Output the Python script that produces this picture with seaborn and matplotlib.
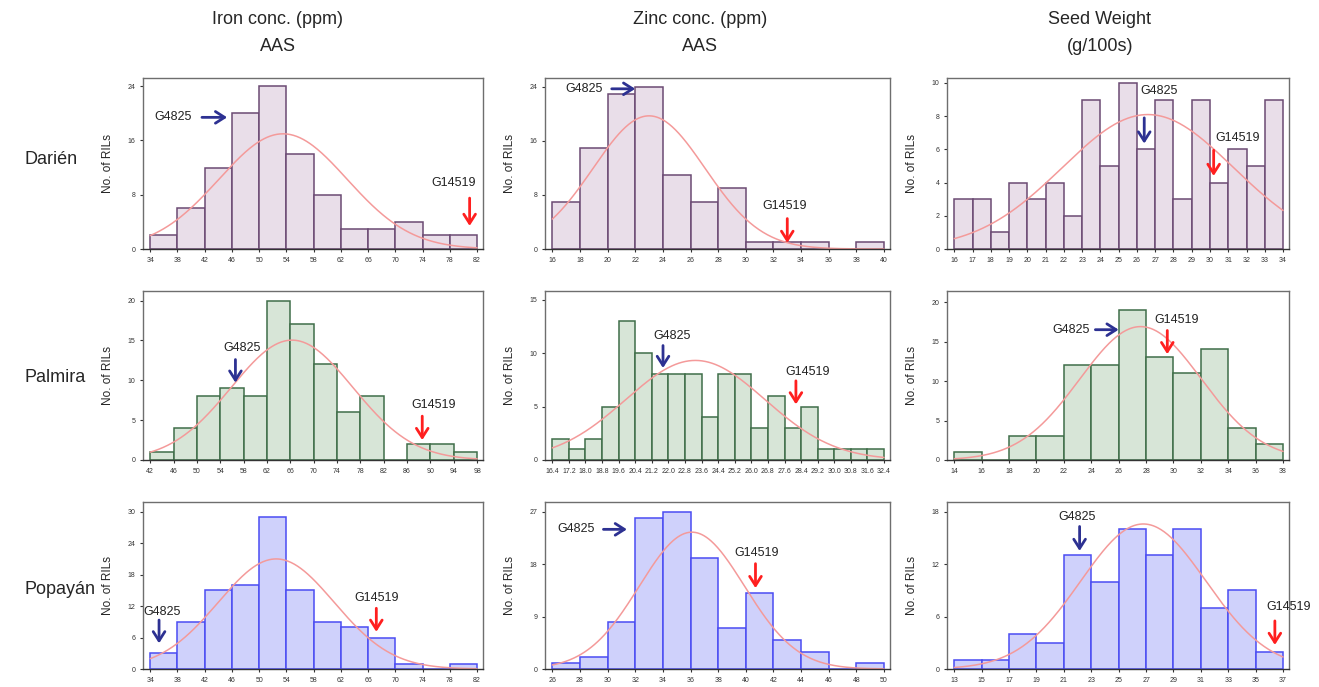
import numpy as np
import pandas as pd
import matplotlib
matplotlib.use("Agg")
import matplotlib.pyplot as plt
import seaborn as sns

sns.set_style("ticks")
plt.rcParams['font.family'] = ['Liberation Sans', 'DejaVu Sans']

locations = ['Darién', 'Palmira', 'Popayán']
traits = ['Iron conc. (ppm)\nAAS', 'Zinc conc. (ppm)\nAAS', 'Seed Weight\n(g/100s)']

# histogram counts (No. of RILs per bin), bins start at *_start with width *_width
darien_fe_start, darien_fe_width = 34, 4
darien_fe = [2, 6, 12, 20, 24, 14, 8, 3, 3, 4, 2, 2]
darien_zn_start, darien_zn_width = 16, 2
darien_zn = [7, 15, 23, 24, 11, 7, 9, 1, 1, 1, 0, 1]
darien_sw_start, darien_sw_width = 16, 1
darien_sw = [3, 3, 1, 4, 3, 4, 2, 9, 5, 10, 6, 9, 3, 9, 4, 6, 5, 9]

palmira_fe_start, palmira_fe_width = 42, 4
palmira_fe = [1, 4, 8, 9, 8, 20, 17, 12, 6, 8, 0, 2, 2, 1]
palmira_zn_start, palmira_zn_width = 16.4, 0.8
palmira_zn = [2, 1, 2, 5, 13, 10, 8, 8, 8, 4, 8, 8, 3, 6, 3, 5, 1, 1, 1, 1]
palmira_sw_start, palmira_sw_width = 14, 2
palmira_sw = [1, 0, 3, 3, 12, 12, 19, 13, 11, 14, 4, 2]

popayan_fe_start, popayan_fe_width = 34, 4
popayan_fe = [3, 9, 15, 16, 29, 15, 9, 8, 6, 1, 0, 1]
popayan_zn_start, popayan_zn_width = 26, 2
popayan_zn = [1, 2, 8, 26, 27, 19, 7, 13, 5, 3, 0, 1]
popayan_sw_start, popayan_sw_width = 13, 2
popayan_sw = [1, 1, 4, 3, 13, 10, 16, 13, 16, 7, 9, 2]

# fitted normal curves (mean, sd)
normal_fit = {
    (0, 0): (53.5, 9.4), (0, 1): (23.0, 4.05), (0, 2): (26.6, 4.68),
    (1, 0): (66.3, 10.4), (1, 1): (23.3, 3.36), (1, 2): (27.6, 4.44),
    (2, 0): (52.5, 8.5), (2, 1): (36.1, 3.8), (2, 2): (26.8, 4.57),
}

yticks = {
    (0, 0): [0, 8, 16, 24], (0, 1): [0, 8, 16, 24], (0, 2): [0, 2, 4, 6, 8, 10],
    (1, 0): [0, 5, 10, 15, 20], (1, 1): [0, 5, 10, 15], (1, 2): [0, 5, 10, 15, 20],
    (2, 0): [0, 6, 12, 18, 24, 30], (2, 1): [0, 9, 18, 27], (2, 2): [0, 6, 12, 18],
}
ytop = {
    (0, 0): 25.2, (0, 1): 25.3, (0, 2): 10.3,
    (1, 0): 21.2, (1, 1): 15.8, (1, 2): 21.4,
    (2, 0): 31.9, (2, 1): 28.7, (2, 2): 19.1,
}

hist_data = {
    (0, 0): (darien_fe_start, darien_fe_width, darien_fe),
    (0, 1): (darien_zn_start, darien_zn_width, darien_zn),
    (0, 2): (darien_sw_start, darien_sw_width, darien_sw),
    (1, 0): (palmira_fe_start, palmira_fe_width, palmira_fe),
    (1, 1): (palmira_zn_start, palmira_zn_width, palmira_zn),
    (1, 2): (palmira_sw_start, palmira_sw_width, palmira_sw),
    (2, 0): (popayan_fe_start, popayan_fe_width, popayan_fe),
    (2, 1): (popayan_zn_start, popayan_zn_width, popayan_zn),
    (2, 2): (popayan_sw_start, popayan_sw_width, popayan_sw),
}

# parent annotations: (label, text xy, arrow tail, arrow tip)
parents = {
    (0, 0): [('G4825', (37.4, 19.4), (41.6, 19.4), (45.3, 19.4)),
             ('G14519', (78.5, 9.7), (80.9, 7.5), (80.9, 3.4))],
    (0, 1): [('G4825', (18.3, 23.7), (20.3, 23.7), (22.0, 23.7)),
             ('G14519', (32.8, 6.3), (33.0, 4.5), (33.0, 0.9))],
    (0, 2): [('G4825', (27.2, 9.5), (26.4, 7.9), (26.4, 6.35)),
             ('G14519', (31.5, 6.7), (30.2, 5.95), (30.2, 4.4))],
    (1, 0): [('G4825', (57.7, 14.1), (56.6, 12.6), (56.6, 9.7)),
             ('G14519', (90.6, 6.9), (88.6, 5.5), (88.6, 2.5))],
    (1, 1): [('G4825', (22.2, 11.6), (21.74, 10.7), (21.74, 8.6)),
             ('G14519', (28.7, 8.2), (28.15, 7.4), (28.15, 5.2))],
    (1, 2): [('G4825', (22.5, 16.5), (24.3, 16.5), (26.0, 16.5)),
             ('G14519', (30.2, 17.7), (29.55, 16.4), (29.55, 13.4))],
    (2, 0): [('G4825', (35.8, 10.9), (35.3, 9.35), (35.3, 4.9)),
             ('G14519', (67.3, 13.6), (67.2, 11.6), (67.2, 7.1))],
    (2, 1): [('G4825', (27.75, 24.0), (29.7, 24.0), (31.4, 24.0)),
             ('G14519', (40.8, 19.9), (40.7, 18.1), (40.7, 13.9))],
    (2, 2): [('G4825', (22.0, 17.4), (22.15, 16.3), (22.15, 13.5)),
             ('G14519', (37.4, 7.1), (36.4, 5.5), (36.4, 2.75))],
}

fills = ['#e9dee9', '#d7e5d7', '#cfd1fb']
edges_c = ['#6b4a73', '#3f6e49', '#4a4cf2']
curve_c = '#f49a9a'
arrow_c = {'G4825': '#2d3192', 'G14519': '#ff1f1f'}

fig = plt.figure(figsize=(13.19, 6.87), dpi=100)

col_left = [143, 545, 947]
col_w = [340, 345, 342]
row_top = [78, 291, 502]
row_bot = [249, 460, 669]
W, H = 1319, 687

for r in range(3):
    for c in range(3):
        key = (r, c)
        ax = fig.add_axes([col_left[c] / W, 1 - row_bot[r] / H,
                           col_w[c] / W, (row_bot[r] - row_top[r]) / H])
        start, width, counts = hist_data[key]
        n = len(counts)
        bin_edges = start + width * np.arange(n + 1)
        centers = bin_edges[:-1] + width / 2
        df = pd.DataFrame({'value': centers, 'count': counts})
        sns.histplot(data=df, x='value', weights='count', binwidth=width,
                     binrange=(float(bin_edges[0]), float(bin_edges[-1])), ax=ax,
                     color=fills[r], edgecolor=edges_c[r], linewidth=1.1, alpha=1)

        mu, sd = normal_fit[key]
        xs = np.linspace(bin_edges[0], bin_edges[-1], 300)
        ys = sum(counts) * width * np.exp(-0.5 * ((xs - mu) / sd) ** 2) / (sd * np.sqrt(2 * np.pi))
        sns.lineplot(x=xs, y=ys, ax=ax, color=curve_c, linewidth=1.1)

        span = bin_edges[-1] - bin_edges[0]
        ax.set_xlim(bin_edges[0] - 0.022 * span, bin_edges[-1] + 0.018 * span)
        ax.set_ylim(0, ytop[key])
        ax.set_xticks(bin_edges)
        if c == 1 and r == 1:
            ax.set_xticklabels([f'{v:.1f}' for v in bin_edges])
        else:
            ax.set_xticklabels([f'{round(v):d}' for v in bin_edges])
        ax.set_yticks(yticks[key])
        ax.tick_params(axis='both', labelsize=5, length=2.5, width=0.8, pad=3,
                       colors='#333333')
        ax.set_xlabel('')
        ax.set_ylabel('No. of RILs', fontsize=8.5, labelpad=10)
        for sp in ax.spines.values():
            sp.set_visible(True)
            sp.set_color('#6e6e6e')
            sp.set_linewidth(1.0)
        ax.spines['bottom'].set_color('#333333')

        for label, txy, tail, tip in parents[key]:
            ax.text(txy[0], txy[1], label, fontsize=9, ha='center', va='center',
                    color='#222222', clip_on=False)
            ax.annotate('', xy=tip, xytext=tail,
                        arrowprops=dict(arrowstyle='->,head_length=0.55,head_width=0.35',
                                        color=arrow_c[label], lw=2.0,
                                        mutation_scale=12, shrinkA=0, shrinkB=0))

col_center = [278, 700, 1100]
for c in range(3):
    fig.text(col_center[c] / W, 1 - 33 / H, traits[c], fontsize=13,
             ha='center', va='center', linespacing=1.7)

row_center = [160, 378, 590]
for r in range(3):
    fig.text(25 / W, 1 - row_center[r] / H, locations[r], fontsize=13,
             ha='left', va='center')

fig.savefig('out.png', dpi=100)
